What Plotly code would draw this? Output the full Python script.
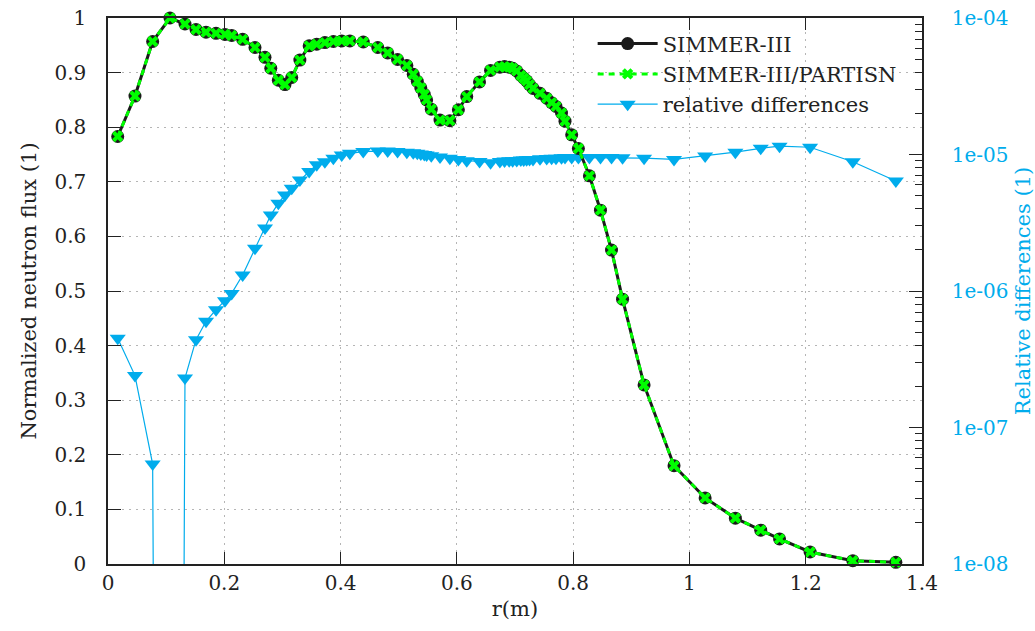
import plotly.graph_objects as go

# ---- data ----
r = [0.0167, 0.0464, 0.0768, 0.1066, 0.1324, 0.1514, 0.1686, 0.1858, 0.2012, 0.2127,
     0.2316, 0.2528, 0.2700, 0.2800, 0.2930, 0.3044, 0.3160, 0.3300, 0.3460, 0.3590,
     0.3730, 0.3876, 0.4020, 0.4160, 0.4390, 0.4640, 0.4810, 0.4980, 0.5140, 0.5250,
     0.5320, 0.5380, 0.5440, 0.5480, 0.5560, 0.5710, 0.5880, 0.6026, 0.6170, 0.6390,
     0.6580, 0.6740, 0.6820, 0.6900, 0.6960, 0.7030, 0.7100, 0.7150, 0.7200, 0.7250,
     0.7310, 0.7430, 0.7545, 0.7630, 0.7705, 0.7800, 0.7860, 0.7975, 0.8090, 0.8280,
     0.8470, 0.8660, 0.8850, 0.9220, 0.9735, 1.0270, 1.0790, 1.1226, 1.1550, 1.2075,
     1.2810, 1.3550]

flux_simmer = [0.783, 0.857, 0.957, 1.000, 0.989, 0.979, 0.974, 0.972, 0.970, 0.968,
               0.961, 0.946, 0.928, 0.908, 0.886, 0.878, 0.891, 0.923, 0.949, 0.952,
               0.955, 0.957, 0.958, 0.958, 0.956, 0.946, 0.936, 0.924, 0.913, 0.897,
               0.884, 0.872, 0.860, 0.850, 0.833, 0.813, 0.812, 0.832, 0.856, 0.883,
               0.904, 0.910, 0.911, 0.910, 0.908, 0.903, 0.895, 0.890, 0.885, 0.878,
               0.871, 0.862, 0.853, 0.845, 0.838, 0.826, 0.811, 0.786, 0.761, 0.711,
               0.648, 0.575, 0.485, 0.328, 0.180, 0.121, 0.084, 0.062, 0.046, 0.022,
               0.006, 0.003]

flux_partisn = [0.783, 0.857, 0.957, 1.000, 0.989, 0.979, 0.974, 0.972, 0.970, 0.968,
                0.961, 0.946, 0.928, 0.908, 0.886, 0.878, 0.891, 0.923, 0.949, 0.952,
                0.955, 0.957, 0.958, 0.958, 0.956, 0.946, 0.936, 0.924, 0.913, 0.897,
                0.884, 0.872, 0.860, 0.850, 0.833, 0.813, 0.812, 0.832, 0.856, 0.883,
                0.904, 0.910, 0.911, 0.910, 0.908, 0.903, 0.895, 0.890, 0.885, 0.878,
                0.871, 0.862, 0.853, 0.845, 0.838, 0.826, 0.811, 0.786, 0.761, 0.711,
                0.648, 0.575, 0.485, 0.328, 0.180, 0.121, 0.084, 0.062, 0.046, 0.022,
                0.006, 0.003]

# relative difference (a zero value at r=0.1066 -> effectively -inf on log scale)
rel_diff = [4.5e-7, 2.4e-7, 5.4e-8, 1e-30, 2.3e-7, 4.4e-7, 6.0e-7, 7.3e-7, 8.5e-7, 9.6e-7,
            1.31e-6, 2.06e-6, 2.9e-6, 3.6e-6, 4.4e-6, 5.05e-6, 5.65e-6, 6.5e-6, 7.5e-6, 8.4e-6,
            8.85e-6, 9.4e-6, 9.9e-6, 1.02e-5, 1.05e-5, 1.06e-5, 1.06e-5, 1.05e-5, 1.04e-5, 1.03e-5,
            1.02e-5, 1.01e-5, 1.0e-5, 9.9e-6, 9.8e-6, 9.6e-6, 9.4e-6, 9.2e-6, 9.0e-6, 8.9e-6,
            8.7e-6, 8.9e-6, 8.95e-6, 9.0e-6, 9.0e-6, 9.05e-6, 9.1e-6, 9.1e-6, 9.15e-6, 9.2e-6,
            9.2e-6, 9.3e-6, 9.35e-6, 9.4e-6, 9.4e-6, 9.45e-6, 9.5e-6, 9.5e-6, 9.5e-6, 9.5e-6,
            9.5e-6, 9.5e-6, 9.45e-6, 9.4e-6, 9.2e-6, 9.75e-6, 1.04e-5, 1.11e-5, 1.15e-5, 1.13e-5,
            8.85e-6, 6.4e-6]

x_ticks = [0, 0.2, 0.4, 0.6, 0.8, 1.0, 1.2, 1.4]
flux_ticks = [0, 0.1, 0.2, 0.3, 0.4, 0.5, 0.6, 0.7, 0.8, 0.9, 1.0]
rel_tickvals = [1e-8, 1e-7, 1e-6, 1e-5, 1e-4]
rel_ticktext = ["1e-08", "1e-07", "1e-06", "1e-05", "1e-04"]

BLUE = "#00acec"
DARK = "#222222"
FONT = "DejaVu Serif"

fig = go.Figure()

fig.add_trace(go.Scatter(
    x=r, y=flux_simmer, name="SIMMER-III", yaxis="y2",
    mode="lines+markers", cliponaxis=False,
    line=dict(color="#1a1a1a", width=3),
    marker=dict(symbol="circle", size=13, color="#1a1a1a"),
))
fig.add_trace(go.Scatter(
    x=r, y=flux_partisn, name="SIMMER-III/PARTISN", yaxis="y2",
    mode="lines+markers", cliponaxis=False,
    line=dict(color="#00ff00", width=3, dash="6px,5px"),
    marker=dict(symbol="x", size=10, color="#00ff00", line=dict(width=0)),
))
fig.add_trace(go.Scatter(
    x=r, y=rel_diff, name="relative differences", yaxis="y",
    mode="lines+markers",
    line=dict(color=BLUE, width=1.2),
    marker=dict(symbol="triangle-down", size=14, color=BLUE),
))

fig.update_layout(
    width=1035, height=631,
    margin=dict(l=108, r=113, t=18, b=67),
    paper_bgcolor="white", plot_bgcolor="white",
    font=dict(family=FONT, size=20, color=DARK),
    showlegend=True,
    legend=dict(x=0.975, xanchor="right", y=0.99, yanchor="top",
                bgcolor="rgba(0,0,0,0)", font=dict(family=FONT, size=21, color=DARK),
                tracegroupgap=0, itemwidth=60),
    xaxis=dict(
        range=[0, 1.4], tickvals=x_ticks, ticks="inside", ticklen=12, tickwidth=1.2,
        tickcolor=DARK, showline=True, linecolor=DARK, linewidth=1.5, mirror="ticks",
        showgrid=True, gridcolor="#b5b5b5", griddash="2px,5px", gridwidth=1,
        zeroline=False, automargin=False, tickfont=dict(family=FONT, size=20, color=DARK),
        title=dict(text="r(m)", font=dict(family=FONT, size=21, color=DARK), standoff=8),
    ),
    yaxis=dict(
        type="log", range=[-8, -4], side="right",
        tickvals=rel_tickvals, ticktext=rel_ticktext,
        ticks="inside", ticklen=13, tickwidth=1.2, tickcolor=DARK,
        minor=dict(ticks="inside", ticklen=7, tickwidth=1.2, tickcolor=DARK, dtick="D1", showgrid=False),
        showline=True, linecolor=DARK, linewidth=1.5, showgrid=False, zeroline=False,
        automargin=False,
        tickfont=dict(family=FONT, size=20, color=BLUE), ticklabelstandoff=24,
        title=dict(text="Relative differences (1)", font=dict(family=FONT, size=21, color=BLUE), standoff=12),
    ),
    yaxis2=dict(
        overlaying="y", side="left", range=[0, 1], tickvals=flux_ticks,
        ticks="inside", ticklen=13, tickwidth=1.2, tickcolor=DARK,
        showline=True, linecolor=DARK, linewidth=1.5,
        showgrid=True, gridcolor="#b5b5b5", griddash="2px,5px", gridwidth=1,
        zeroline=False, automargin=False,
        tickfont=dict(family=FONT, size=20, color=DARK), ticklabelstandoff=16,
        title=dict(text="Normalized neutron flux (1)", font=dict(family=FONT, size=21, color=DARK), standoff=12),
    ),
)

fig.write_html("out.html")
